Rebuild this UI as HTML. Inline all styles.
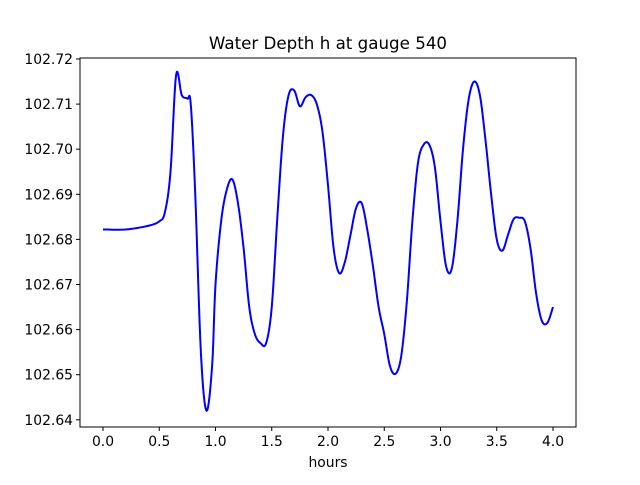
<!DOCTYPE html>
<html><head><meta charset="utf-8"><style>
body{margin:0;background:#fff;}
svg text{font-family:"DejaVu Sans","Liberation Sans",sans-serif;}
</style></head><body>
<svg id="s" width="640" height="480" viewBox="0 0 640 480" xmlns="http://www.w3.org/2000/svg">
<rect width="640" height="480" fill="#fff"/>
<text x="328" y="49" font-size="16.7" text-anchor="middle">Water Depth h at gauge 540</text>
<g id="ticks" font-size="13.9" fill="#000"></g>
<polyline id="ln" fill="none" stroke="#0000ff" stroke-width="2" stroke-linejoin="round"/>
<rect x="80" y="58" width="496" height="369" fill="none" stroke="#000" stroke-width="1"/>
<text x="328" y="467" font-size="13.9" text-anchor="middle">hours</text>
</svg>
<script>
var d=[[0,102.6822],[0.2,102.6822],[0.4,102.683],[0.5,102.684],[0.55,102.686],[0.6,102.695],[0.65,102.7165],[0.7,102.712],[0.75,102.7112],[0.78,102.710],[0.82,102.69],[0.87,102.655],[0.92,102.642],[0.97,102.652],[1.0,102.670],[1.05,102.684],[1.1,102.691],[1.15,102.6933],[1.2,102.688],[1.25,102.678],[1.3,102.665],[1.35,102.659],[1.4,102.657],[1.45,102.657],[1.5,102.665],[1.55,102.685],[1.6,102.703],[1.65,102.712],[1.7,102.713],[1.75,102.7095],[1.8,102.7115],[1.85,102.712],[1.9,102.710],[1.95,102.704],[2.0,102.692],[2.05,102.678],[2.1,102.6725],[2.15,102.675],[2.2,102.681],[2.25,102.687],[2.3,102.688],[2.35,102.682],[2.4,102.674],[2.45,102.665],[2.5,102.659],[2.55,102.652],[2.6,102.6502],[2.65,102.654],[2.7,102.666],[2.75,102.684],[2.8,102.697],[2.85,102.701],[2.9,102.701],[2.95,102.696],[3.0,102.684],[3.05,102.674],[3.1,102.6735],[3.15,102.684],[3.2,102.700],[3.25,102.711],[3.3,102.715],[3.35,102.712],[3.4,102.702],[3.45,102.690],[3.5,102.680],[3.55,102.6775],[3.6,102.681],[3.65,102.6845],[3.7,102.6848],[3.75,102.684],[3.8,102.678],[3.85,102.668],[3.9,102.662],[3.95,102.6615],[4.0,102.665]];
function X(t){return 103+t*112.5;}
function Y(h){return 59+(102.72-h)/0.01*45.1;}
var pts=[];
for(var i=0;i<d.length-1;i++){
 var p0=d[Math.max(0,i-1)],p1=d[i],p2=d[i+1],p3=d[Math.min(d.length-1,i+2)];
 for(var k=0;k<8;k++){var u=k/8,u2=u*u,u3=u2*u;
  var f=function(a,b,c,e){return 0.5*((2*b)+(-a+c)*u+(2*a-5*b+4*c-e)*u2+(-a+3*b-3*c+e)*u3);};
  pts.push(X(f(p0[0],p1[0],p2[0],p3[0])).toFixed(2)+','+Y(f(p0[1],p1[1],p2[1],p3[1])).toFixed(2));}
}
pts.push(X(4)+','+Y(102.665));
document.getElementById('ln').setAttribute('points',pts.join(' '));
var g=document.getElementById('ticks'),s='';
for(var i=0;i<=8;i++){var t=i*0.5,x=X(t);
 s+='<line x1="'+x+'" y1="427" x2="'+x+'" y2="431" stroke="#000"/><text x="'+x+'" y="446" text-anchor="middle">'+t.toFixed(1)+'</text>';}
for(var i=0;i<=8;i++){var h=102.64+i*0.01,y=Y(h);
 s+='<line x1="76" y1="'+y+'" x2="80" y2="'+y+'" stroke="#000"/><text x="73" y="'+(y+5)+'" text-anchor="end">'+h.toFixed(2)+'</text>';}
g.innerHTML=s;
</script>
</body></html>
